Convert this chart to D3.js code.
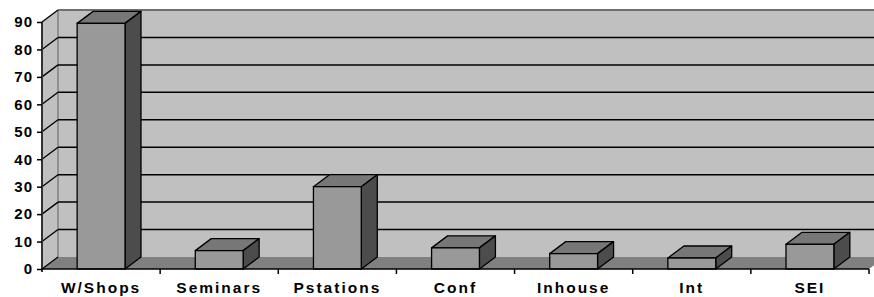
<!DOCTYPE html>
<html>
<head>
<meta charset="utf-8">
<script src="https://cdn.jsdelivr.net/npm/d3@7"></script>
<style>
  body { margin: 0; background: #fff; }
  text { font-family: Arial, "Liberation Sans", sans-serif; font-weight: bold; fill: #000; }
</style>
</head>
<body>
<svg id="chart" width="874" height="297"></svg>
<script>
var categories = ["W/Shops", "Seminars", "Pstations", "Conf", "Inhouse", "Int", "SEI"];
var values = [89.5, 6.7, 30, 7.7, 5.6, 4, 9];
var yTicks = [0, 10, 20, 30, 40, 50, 60, 70, 80, 90];

var svg = d3.select("#chart"),
    plotLeft = 42, plotRight = 869, plotBottom = 269, plotTop = 22,
    dx = 16, dy = -12;

var x = d3.scaleBand()
    .domain(categories)
    .range([plotLeft, plotRight])
    .padding(0);

var y = d3.scaleLinear()
    .domain([0, 90])
    .range([plotBottom, plotTop]);

var barW = x.bandwidth() * 0.405;

// back wall
svg.append("rect")
    .attr("x", plotLeft + dx).attr("y", y(90) + dy)
    .attr("width", plotRight - plotLeft + 10).attr("height", y(0) - y(90))
    .attr("fill", "#c0c0c0");

// left side wall
svg.append("polygon")
    .attr("points", [[plotLeft, y(0)], [plotLeft, y(90)], [plotLeft + dx, y(90) + dy], [plotLeft + dx, y(0) + dy]].join(" "))
    .attr("fill", "#c0c0c0");

// floor
svg.append("polygon")
    .attr("points", [[plotLeft, y(0)], [plotLeft + dx, y(0) + dy], [plotRight + dx, y(0) + dy], [plotRight, y(0)]].join(" "))
    .attr("fill", "#808080");

// wall edges
svg.append("line")
    .attr("x1", plotLeft + dx).attr("x2", plotLeft + dx)
    .attr("y1", y(90) + dy).attr("y2", y(0) + dy)
    .attr("stroke", "#808080").attr("stroke-width", 1.5);
svg.append("line")
    .attr("x1", plotLeft + dx).attr("x2", 874)
    .attr("y1", y(90) + dy).attr("y2", y(90) + dy)
    .attr("stroke", "#707070").attr("stroke-width", 2);

// gridlines on back and side wall
var grid = svg.append("g").attr("class", "grid");
grid.selectAll(".gh")
    .data(yTicks.filter(function(d) { return d > 0 && d < 90; }))
    .enter().append("line")
    .attr("x1", plotLeft + dx).attr("x2", 874)
    .attr("y1", function(d) { return y(d) + dy; })
    .attr("y2", function(d) { return y(d) + dy; })
    .attr("stroke", "#000").attr("stroke-width", 1.5);
grid.selectAll(".gd")
    .data(yTicks)
    .enter().append("line")
    .attr("x1", plotLeft).attr("x2", plotLeft + dx)
    .attr("y1", function(d) { return y(d); })
    .attr("y2", function(d) { return y(d) + dy; })
    .attr("stroke", "#000").attr("stroke-width", 1.3);

// bars
var bars = svg.selectAll(".bar")
    .data(categories.map(function(c, i) { return {name: c, value: values[i]}; }))
    .enter().append("g")
    .attr("class", "bar");

function x0(d) { return x(d.name) + (x.bandwidth() - barW) / 2; }

bars.append("polygon")
    .attr("points", function(d) {
      var a = x0(d), b = a + barW, t = y(d.value);
      return [[a, t], [a + dx, t + dy], [b + dx, t + dy], [b, t]].join(" ");
    })
    .attr("fill", "#777777").attr("stroke", "#000").attr("stroke-width", 1.3)
    .attr("stroke-linejoin", "round");

bars.append("polygon")
    .attr("points", function(d) {
      var b = x0(d) + barW, t = y(d.value), z = y(0);
      return [[b, t], [b + dx, t + dy], [b + dx, z + dy], [b, z]].join(" ");
    })
    .attr("fill", "#4c4c4c").attr("stroke", "#000").attr("stroke-width", 1.3)
    .attr("stroke-linejoin", "round");

bars.append("rect")
    .attr("x", x0)
    .attr("y", function(d) { return y(d.value); })
    .attr("width", barW)
    .attr("height", function(d) { return y(0) - y(d.value); })
    .attr("fill", "#999999").attr("stroke", "#000").attr("stroke-width", 1.3);

// y axis
var yAxis = svg.append("g")
    .attr("transform", "translate(" + plotLeft + ",0)")
    .call(d3.axisLeft(y).tickValues(yTicks).tickSize(5).tickPadding(4));
yAxis.select(".domain").attr("stroke", "#333").attr("stroke-width", 2)
    .attr("d", "M0," + (y(90)) + "V" + (y(0) + 3));
yAxis.selectAll(".tick line").attr("stroke", "#000").attr("stroke-width", 1.5);
yAxis.selectAll("text")
    .attr("font-size", 15).attr("letter-spacing", "1px")
    .attr("fill", "#000");

// x axis
svg.append("line")
    .attr("x1", plotLeft).attr("x2", plotRight)
    .attr("y1", y(0)).attr("y2", y(0))
    .attr("stroke", "#000").attr("stroke-width", 1.5);

svg.selectAll(".xtick")
    .data(categories)
    .enter().append("line")
    .attr("x1", function(d) { return x(d) + x.bandwidth(); })
    .attr("x2", function(d) { return x(d) + x.bandwidth(); })
    .attr("y1", y(0)).attr("y2", y(0) + 5)
    .attr("stroke", "#000").attr("stroke-width", 1.5);

var xAxis = svg.append("g")
    .attr("transform", "translate(0," + y(0) + ")")
    .call(d3.axisBottom(x).tickSize(0).tickPadding(13));
xAxis.select(".domain").remove();
xAxis.selectAll("text")
    .attr("font-size", 15.5).attr("letter-spacing", "2px")
    .attr("fill", "#000");
</script>
</body>
</html>
